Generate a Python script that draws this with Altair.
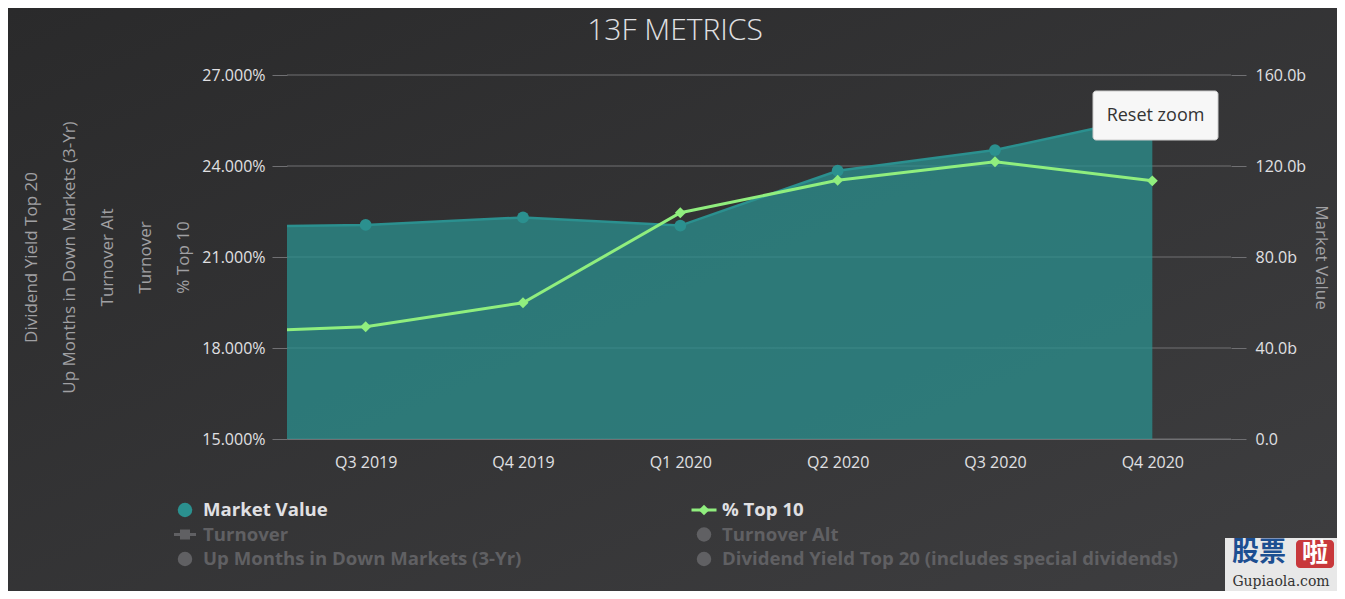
import altair as alt
import pandas as pd

# ---------------- data ----------------
quarters = ["Q2 2019", "Q3 2019", "Q4 2019", "Q1 2020", "Q2 2020", "Q3 2020", "Q4 2020"]
quarter_index = [-1, 0, 1, 2, 3, 4, 5]          # Q2 2019 lies just outside the zoomed range
market_value_b = [93.2, 94.1, 97.4, 93.8, 117.9, 127.0, 142.0]
pct_top10 = [18.50, 18.70, 19.49, 22.46, 23.53, 24.14, 23.51]

left_ticks = [15, 18, 21, 24, 27]
right_ticks = [0, 40, 80, 120, 160]
left_axis_titles = ["Dividend Yield Top 20", "Up Months in Down Markets (3-Yr)",
                    "Turnover Alt", "Turnover", "% Top 10"]

legend_names = ["Market Value", "% Top 10", "Turnover", "Turnover Alt",
                "Up Months in Down Markets (3-Yr)",
                "Dividend Yield Top 20 (includes special dividends)"]
legend_visible = [True, True, False, False, False, False]
legend_symbols = ["circle", "line-diamond", "line-square", "circle", "circle", "circle"]
legend_col = [0, 1, 0, 1, 0, 1]
legend_row = [0, 0, 1, 1, 2, 2]

title_text = "13F METRICS"
button_text = "Reset zoom"
watermark_cn = ["股票", "啦"]
watermark_url = "Gupiaola.com"

# ---------------- layout / style ----------------
W, H = 944, 364
LEFT, TOP = 279, 67
CANVAS_W, CANVAS_H = 1329, 583
FONT = "Open Sans"
LABEL = "#E0E0E3"
AXIS_TITLE = "#A0A0A3"
GRID = "#707073"
TEAL = "#2b908f"
GREEN = "#90ee7e"
HIDDEN = "#606063"

series = pd.DataFrame({"quarter": quarters, "idx": quarter_index,
                       "mv": market_value_b, "top10": pct_top10})
legend_df = pd.DataFrame({"name": legend_names, "visible": legend_visible,
                          "symbol": legend_symbols, "lcol": legend_col, "lrow": legend_row})
grid_df = pd.DataFrame({"v": left_ticks})
one = alt.Data(values=[{"k": 1}])

offset = -quarter_index[0]
labels_js = "[" + ",".join(repr(q) for q in quarters) + "]"
x_scale = alt.Scale(domain=[-0.5, 5.5], nice=False, zero=False)
x_axis = alt.X("idx:Q", scale=x_scale, axis=alt.Axis(
    values=list(range(6)), labelExpr=f"{labels_js}[datum.value + {offset}]",
    title=None, grid=False, ticks=False, tickSize=0, domainColor=GRID, domainWidth=1,
    labelColor=LABEL, labelFont=FONT, labelFontSize=16, labelPadding=15,
    labelFlush=False, labelOverlap=False, zindex=1))
x_hidden = alt.X("idx:Q", scale=x_scale, axis=None)

mv_scale = alt.Scale(domain=[0, 160], nice=False, zero=True)
mv_y = alt.Y("mv:Q", scale=mv_scale, axis=alt.Axis(
    orient="right", values=right_ticks,
    labelExpr="datum.value == 0 ? '0.0' : format(datum.value, '.1f') + 'b'",
    title="Market Value", titleColor=AXIS_TITLE, titleFont=FONT, titleFontSize=17,
    titleFontWeight="normal", titlePadding=6, grid=False, domain=False,
    tickSize=15, tickColor=GRID, labelColor=LABEL, labelFont=FONT, labelFontSize=16,
    labelPadding=9, labelOverlap=False, zindex=1))

top_scale = alt.Scale(domain=[15, 27], nice=False, zero=False)
top_y = alt.Y("top10:Q", scale=top_scale, axis=alt.Axis(
    orient="left", values=left_ticks, labelExpr="format(datum.value, '.3f') + '%'",
    title=left_axis_titles, titleLineHeight=38, titleColor=AXIS_TITLE, titleFont=FONT,
    titleFontSize=17, titleFontWeight="normal", titlePadding=9, grid=False, domain=False,
    tickSize=15, tickColor=GRID, labelColor=LABEL, labelFont=FONT, labelFontSize=16,
    labelPadding=7, labelOverlap=False, zindex=1))

# background (diagonal gradient as in the original theme)
bg = alt.Chart(one).mark_rect(
    fill=alt.LinearGradient(gradient="linear", x1=0, y1=0, x2=1, y2=1,
                            stops=[alt.GradientStop(color="#2a2a2b", offset=0),
                                   alt.GradientStop(color="#3e3e40", offset=1)]),
    strokeWidth=0).encode(x=alt.value(-LEFT), x2=alt.value(CANVAS_W - LEFT),
                          y=alt.value(-TOP), y2=alt.value(CANVAS_H - TOP))

grid = alt.Chart(grid_df).mark_rule(color=GRID, strokeWidth=1).encode(
    y=alt.Y("v:Q", scale=top_scale, axis=None), x=alt.value(0), x2=alt.value("width"))

base = alt.Chart(series)
mv_area = base.mark_area(clip=True, color=TEAL, fillOpacity=0.75).encode(x=x_axis, y=mv_y)
mv_line = base.mark_line(clip=True, color=TEAL, strokeWidth=2.5).encode(x=x_axis, y=mv_y)
mv_pts = base.transform_filter("datum.idx >= 0").mark_point(
    filled=True, shape="circle", size=140, color=TEAL, opacity=1).encode(x=x_axis, y=mv_y)
mv_layer = alt.layer(mv_area, mv_line, mv_pts)

top_line = base.mark_line(clip=True, color=GREEN, strokeWidth=3).encode(x=x_hidden, y=top_y)
top_pts = base.transform_filter("datum.idx >= 0").mark_point(
    filled=True, shape="diamond", size=120, color=GREEN, opacity=1).encode(x=x_hidden, y=top_y)
top_layer = alt.layer(top_line, top_pts)

title = alt.Chart(one).mark_text(text=title_text, font=FONT, fontSize=30, fontWeight=300,
                                 color=LABEL, align="center", baseline="middle").encode(
    x=alt.value(388), y=alt.value(-44))

btn_rect = alt.Chart(one).mark_rect(fill="#f7f7f7", stroke="#cccccc", strokeWidth=1,
                                    cornerRadius=3).encode(
    x=alt.value(806), x2=alt.value(931), y=alt.value(16), y2=alt.value(65))
btn_text = alt.Chart(one).mark_text(text=button_text, font=FONT, fontSize=18, color="#333333",
                                    align="center", baseline="middle").encode(
    x=alt.value(868.5), y=alt.value(40.5))

# legend
lx = alt.X("lcol:O", scale=alt.Scale(type="point", range=[-102, 417], padding=0), axis=None)
ly = alt.Y("lrow:O", scale=alt.Scale(type="point", range=[435, 484], padding=0), axis=None)
lbase = alt.Chart(legend_df)
vis_color = alt.condition("datum.visible", alt.value(LABEL), alt.value(HIDDEN))
leg_circles = lbase.transform_filter("datum.symbol == 'circle'").mark_point(
    filled=True, shape="circle", size=210, opacity=1, clip=False).encode(
    x=lx, y=ly, color=alt.condition("datum.visible", alt.value(TEAL), alt.value(HIDDEN)))
leg_green_line = lbase.transform_filter("datum.symbol == 'line-diamond'").mark_tick(
    orient="horizontal", size=25, thickness=3, color=GREEN, opacity=1, clip=False).encode(x=lx, y=ly)
leg_green_pt = lbase.transform_filter("datum.symbol == 'line-diamond'").mark_point(
    filled=True, shape="diamond", size=110, color=GREEN, opacity=1, clip=False).encode(x=lx, y=ly)
leg_gray_line = lbase.transform_filter("datum.symbol == 'line-square'").mark_tick(
    orient="horizontal", size=22, thickness=3, color=HIDDEN, opacity=1, clip=False).encode(x=lx, y=ly)
leg_gray_pt = lbase.transform_filter("datum.symbol == 'line-square'").mark_point(
    filled=True, shape="square", size=100, color=HIDDEN, opacity=1, clip=False).encode(x=lx, y=ly)
leg_text = lbase.mark_text(align="left", baseline="middle", dx=18, font=FONT, fontSize=18.6,
                           fontWeight="bold", clip=False).encode(
    x=lx, y=ly, text="name:N", color=vis_color)
legend = alt.layer(leg_circles, leg_green_line, leg_green_pt, leg_gray_line, leg_gray_pt, leg_text)

# watermark of the source site
wm_box = alt.Chart(one).mark_rect(fill="#e8e8e8", strokeWidth=0).encode(
    x=alt.value(938), x2=alt.value(1050), y=alt.value(463), y2=alt.value(516))
wm_cn1 = alt.Chart(one).mark_text(text=watermark_cn[0], font="Noto Sans CJK SC", fontSize=27,
                                  fontWeight="bold", color="#1d4f91", align="center",
                                  baseline="middle").encode(x=alt.value(972), y=alt.value(478))
wm_red = alt.Chart(one).mark_rect(fill="#c8383b", cornerRadius=4).encode(
    x=alt.value(1009), x2=alt.value(1047), y=alt.value(465), y2=alt.value(493))
wm_cn2 = alt.Chart(one).mark_text(text=watermark_cn[1], font="Noto Sans CJK SC", fontSize=26,
                                  fontWeight="bold", color="#ffffff", align="center",
                                  baseline="middle").encode(x=alt.value(1028), y=alt.value(479))
wm_url = alt.Chart(one).mark_text(text=watermark_url, font="DejaVu Serif", fontSize=14,
                                  color="#333333", align="center", baseline="middle").encode(
    x=alt.value(994), y=alt.value(507))

chart = alt.layer(
    bg, grid, mv_layer, top_layer, btn_rect, btn_text, title, legend,
    wm_box, wm_cn1, wm_red, wm_cn2, wm_url
).resolve_scale(x="independent", y="independent").properties(
    width=W, height=H, padding=0
).configure(background="#2a2a2b").configure_view(stroke="transparent")

chart.save("out.html", embed_options={"renderer": "svg", "actions": False})
